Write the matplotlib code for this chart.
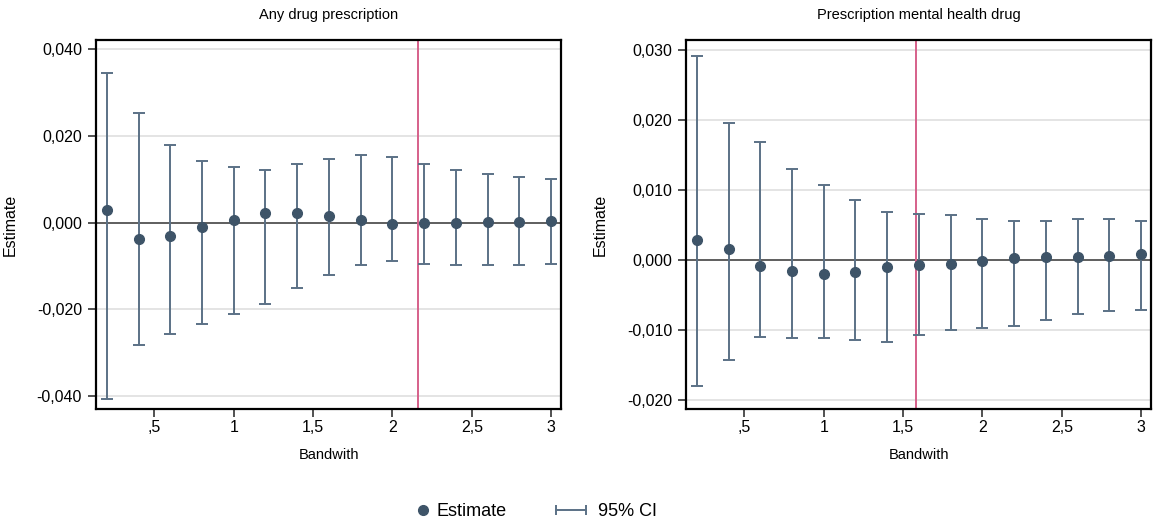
import numpy as np
import matplotlib
matplotlib.use('Agg')
from matplotlib import pyplot as plt
from matplotlib.lines import Line2D
from matplotlib.legend_handler import HandlerLine2D, HandlerLine2DCompound

plt.rcParams['font.family'] = ['Liberation Sans', 'DejaVu Sans']
plt.rcParams['font.size'] = 11.5

bandwidth = [0.2, 0.4, 0.6, 0.8, 1.0, 1.2, 1.4, 1.6, 1.8, 2.0, 2.2, 2.4, 2.6, 2.8, 3.0]

# any drug prescription
any_est = [0.0029, -0.0038, -0.0030, -0.0010, 0.0005, 0.0021, 0.0021, 0.0015, 0.0005,
           -0.0003, -0.0001, 0.0000, 0.0001, 0.0002, 0.0003]
any_hi = [0.0344, 0.0253, 0.0179, 0.0143, 0.0129, 0.0122, 0.0136, 0.0147, 0.0156,
          0.0152, 0.0134, 0.0121, 0.0112, 0.0105, 0.0100]
any_lo = [-0.0408, -0.0282, -0.0258, -0.0235, -0.0210, -0.0188, -0.0151, -0.0122, -0.0098,
          -0.0089, -0.0096, -0.0098, -0.0099, -0.0098, -0.0096]
any_opt = 2.16

# mental health drug
mh_est = [0.0029, 0.0016, -0.0009, -0.0016, -0.0020, -0.0017, -0.0010, -0.0007, -0.0006,
          -0.0002, 0.0003, 0.0004, 0.0004, 0.0005, 0.0008]
mh_hi = [0.0291, 0.0196, 0.0169, 0.0130, 0.0107, 0.0085, 0.0068, 0.0066, 0.0064,
         0.0058, 0.0055, 0.0056, 0.0058, 0.0059, 0.0056]
mh_lo = [-0.0180, -0.0143, -0.0110, -0.0112, -0.0111, -0.0114, -0.0117, -0.0108, -0.0100,
         -0.0098, -0.0094, -0.0086, -0.0078, -0.0073, -0.0072]
mh_opt = 1.58

xticks = [0.5, 1.0, 1.5, 2.0, 2.5, 3.0]
xticklabels = [',5', '1', '1,5', '2', '2,5', '3']

c_bar = '#5b7186'
c_dot = '#3e5468'
c_opt = '#d6608a'


class RightDot(HandlerLine2DCompound):
    # stata puts the legend dot at the right end of the key
    def get_xdata(self, legend, xdescent, ydescent, width, height, fontsize):
        xd, xm = super().get_xdata(legend, xdescent, ydescent, width, height, fontsize)
        return xd, np.array([width - xdescent - 1.0])


def panel(ax, est, lo, hi, opt, title, yticks, ylim):
    x = np.array(bandwidth)
    est = np.array(est)
    ax.set_xlim(0.132, 3.062)
    ax.set_ylim(*ylim)
    for y in yticks:
        ax.axhline(y, color='#e2e2e2', lw=1.3, zorder=0)
    ax.axhline(0, color='#555555', lw=1.3, zorder=1)
    ax.axvline(opt, color=c_opt, lw=1.4, zorder=2)
    ax.errorbar(x, est, yerr=[est - np.array(lo), np.array(hi) - est], fmt='none',
                ecolor=c_bar, elinewidth=1.4, capsize=4, capthick=1.4, zorder=3)
    ax.plot(x, est, 'o', color=c_dot, ms=7, zorder=4)
    ax.set_xticks(xticks)
    ax.set_xticklabels(xticklabels)
    ax.set_yticks(yticks)
    ax.set_yticklabels([('%.3f' % v).replace('.', ',') for v in yticks])
    ax.tick_params(direction='out', length=6, width=1.1, color='#222222', pad=4)
    ax.tick_params(axis='x', pad=2)
    for s in ax.spines.values():
        s.set_linewidth(1.6)
        s.set_color('black')
    ax.set_title(title, fontsize=10.5, pad=15)
    ax.set_xlabel('Bandwith', fontsize=10.5, labelpad=9)
    ax.set_ylabel('Estimate', fontsize=11.5, labelpad=14)


fig = plt.figure(figsize=(11.53, 5.23), dpi=100)
ax1 = fig.add_axes([96 / 1153, 1 - 409 / 523, 465 / 1153, 369 / 523])
ax2 = fig.add_axes([686 / 1153, 1 - 409 / 523, 465 / 1153, 369 / 523])

panel(ax1, any_est, any_lo, any_hi, any_opt, 'Any drug prescription',
      [-0.04, -0.02, 0.0, 0.02, 0.04], (-0.043, 0.0421))
panel(ax2, mh_est, mh_lo, mh_hi, mh_opt, 'Prescription mental health drug',
      [-0.02, -0.01, 0.0, 0.01, 0.02, 0.03], (-0.0213, 0.0314))

h_est = Line2D([], [], ls='none', marker='o', color=c_dot, ms=7)
h_ci = Line2D([], [], color=c_bar, lw=1.4, marker='|', ms=6.5, mew=1.4)
fig.legend([h_est, h_ci], ['Estimate', '95% CI'], loc='lower center',
           bbox_to_anchor=(0.456, -0.025), ncol=2, frameon=False, fontsize=13,
           handlelength=1.67, columnspacing=2.7, handletextpad=0.67,
           handler_map={h_est: RightDot(numpoints=1),
                        h_ci: HandlerLine2D(numpoints=2, marker_pad=0)})

fig.savefig('out.png', dpi=100)
